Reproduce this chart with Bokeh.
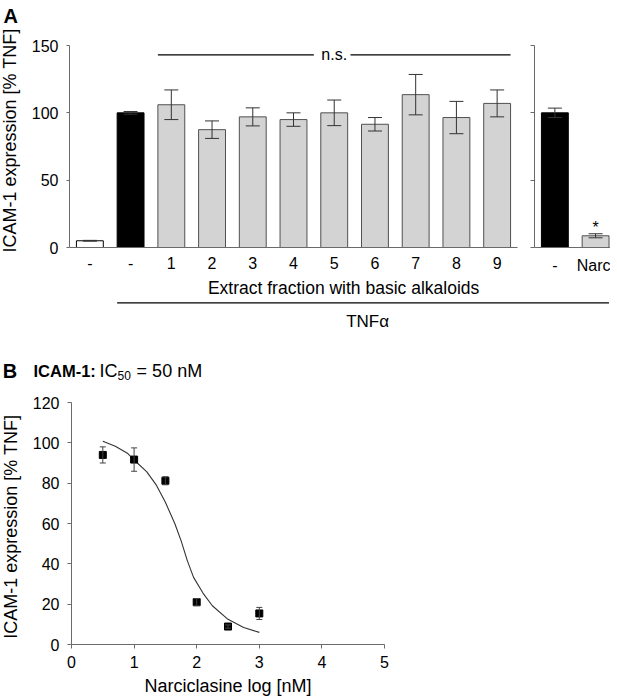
import math
from bokeh.plotting import figure
from bokeh.layouts import column, row
from bokeh.models import ColumnDataSource, Whisker, FixedTicker, Range1d, TeeHead
from bokeh.core.properties import value
from bokeh.embed import file_html
from bokeh.resources import INLINE

FONT = "Liberation Sans"

# ---------------- data ----------------
# Panel A, left part
a_labels = ["-", "-", "1", "2", "3", "4", "5", "6", "7", "8", "9"]
a_values = [5, 100, 106, 87.5, 97, 95, 100, 91.5, 113.5, 96.5, 107]
a_errors = [0.3, 1, 11, 6.5, 6.7, 5, 9.5, 5, 15, 12, 10]
a_fill = ["white", "black"] + ["#d3d3d3"] * 9
a_line = ["black", "black"] + ["#505050"] * 9

# Panel A, right part
r_labels = ["-", "Narc"]
r_values = [100, 8.7]
r_errors = [3.5, 1.5]
r_fill = ["black", "#d3d3d3"]
r_line = ["black", "#505050"]

ns_level = 143
y_ticks_a = [0, 50, 100, 150]

# Panel B
b_x = [0.5, 1.0, 1.5, 2.0, 2.5, 3.0]
b_y = [94, 91.7, 81.2, 21, 8.9, 15.4]
b_err = [4, 5.8, 2, 1.8, 0.8, 3]
fit_x = [0.5, 0.7, 0.9, 1.0, 1.2, 1.35, 1.5, 1.65, 1.75, 1.85, 1.95, 2.1, 2.25, 2.5, 2.75, 3.0]
fit_y = [100.8, 98.3, 94.7, 91.5, 85.7, 79.3, 70.5, 60.0, 51.5, 41.6, 33.3, 25.5, 19.2, 12.5, 8.4, 6.0]
y_ticks_b = [0, 20, 40, 60, 80, 100, 120]
x_ticks_b = [0, 1, 2, 3, 4, 5]

AXIS_COLOR = "#6a6a6a"
ERR_COLOR = "#333333"
BAR_W = 0.66
PX_PER_CAT = 448 / 11
Y_LABEL = "ICAM-1 expression [% TNF]"


def style(p):
    p.outline_line_color = None
    p.grid.visible = False
    p.background_fill_color = "white"
    p.border_fill_color = "white"
    for ax in p.axis:
        ax.axis_line_color = AXIS_COLOR
        ax.major_tick_line_color = AXIS_COLOR
        ax.minor_tick_line_color = None
        ax.major_tick_in = 0
        ax.major_label_text_font = FONT
        ax.major_label_text_font_size = "16px"
        ax.major_label_text_color = "black"
        ax.axis_label_text_font = FONT
        ax.axis_label_text_font_size = "18px"
        ax.axis_label_text_font_style = "normal"
        ax.axis_label_text_color = "black"


def txt(p, x, y, s, size="17px", style_="normal", align="center", baseline="middle", angle=0.0):
    p.text(x=[x], y=[y], text=[s], text_font=value(FONT), text_font_size=size,
           text_font_style=style_, text_align=align, text_baseline=baseline, angle=angle,
           text_color="black", level="annotation")


# ---------------- Panel A left ----------------
HA = 340
pa = figure(width=524, height=HA, x_range=Range1d(-0.5, 10.5), y_range=Range1d(0, 150),
            output_backend="svg", toolbar_location=None,
            min_border_left=69, min_border_right=7, min_border_top=45, min_border_bottom=HA - 247)
style(pa)
xa = list(range(len(a_labels)))
src_a = ColumnDataSource(dict(x=xa, top=a_values, fill=a_fill, line=a_line,
                              upper=[v + e for v, e in zip(a_values, a_errors)],
                              lower=[v - e for v, e in zip(a_values, a_errors)]))
pa.vbar(x="x", top="top", width=BAR_W, bottom=0, fill_color="fill", line_color="line",
        line_width=1, source=src_a)
pa.add_layout(Whisker(base="x", upper="upper", lower="lower", source=src_a, level="annotation",
                      line_color=ERR_COLOR, line_width=1,
                      upper_head=TeeHead(size=14, line_color=ERR_COLOR, line_width=1),
                      lower_head=TeeHead(size=14, line_color=ERR_COLOR, line_width=1)))
pa.xaxis.ticker = FixedTicker(ticks=xa)
pa.xaxis.major_label_overrides = {i: lab for i, lab in enumerate(a_labels)}
pa.xaxis.major_tick_line_color = None
pa.xaxis.major_tick_out = 0
pa.xaxis.major_label_standoff = 9
pa.yaxis.ticker = FixedTicker(ticks=y_ticks_a)
pa.yaxis.major_tick_out = 3
pa.yaxis.major_label_standoff = 8
# y axis title, drawn left of the tick labels
txt(pa, -1.95, 79.5, Y_LABEL, size="18px", angle=math.pi / 2)

# n.s. bracket over fractions 1-9
ns_left = xa[2] - BAR_W / 2
ns_right = xa[-1] + BAR_W / 2
ns_mid = xa[6]
pa.segment(x0=[ns_left, ns_mid + 0.4], x1=[ns_mid - 0.5, ns_right], y0=[ns_level, ns_level],
           y1=[ns_level, ns_level], line_color="black", line_width=1.2)
txt(pa, ns_mid, ns_level, "n.s.", size="16px")

# panel letter
txt(pa, -2.12, 172, "A", size="20px", style_="bold", align="left")

# group label and TNF bracket below the axis
txt(pa, 6.23, -30.4, "Extract fraction with basic alkaloids", size="17.5px")
tnf_y = -41.1
pa.segment(x0=[xa[1] - BAR_W / 2], x1=[13.0], y0=[tnf_y], y1=[tnf_y], line_color="black",
           line_width=1.2, level="annotation")
txt(pa, 6.82, -55, "TNFα")

# ---------------- Panel A right ----------------
wr = 86
frame_r = wr - 10
pr = figure(width=wr, height=HA, x_range=Range1d(-0.5, -0.5 + frame_r / PX_PER_CAT), y_range=Range1d(0, 150),
            output_backend="svg", toolbar_location=None,
            min_border_left=10, min_border_right=0, min_border_top=45, min_border_bottom=HA - 247)
style(pr)
xr = list(range(len(r_labels)))
src_r = ColumnDataSource(dict(x=xr, top=r_values, fill=r_fill, line=r_line,
                              upper=[v + e for v, e in zip(r_values, r_errors)],
                              lower=[v - e for v, e in zip(r_values, r_errors)]))
pr.vbar(x="x", top="top", width=BAR_W, bottom=0, fill_color="fill", line_color="line",
        line_width=1, source=src_r)
pr.add_layout(Whisker(base="x", upper="upper", lower="lower", source=src_r, level="annotation",
                      line_color=ERR_COLOR, line_width=1,
                      upper_head=TeeHead(size=14, line_color=ERR_COLOR, line_width=1),
                      lower_head=TeeHead(size=14, line_color=ERR_COLOR, line_width=1)))
pr.xaxis.ticker = FixedTicker(ticks=xr)
pr.xaxis.major_label_overrides = {i: lab for i, lab in enumerate(r_labels)}
pr.xaxis.major_tick_line_color = None
pr.xaxis.major_tick_out = 0
pr.xaxis.major_label_standoff = 9
pr.yaxis.ticker = FixedTicker(ticks=y_ticks_a)
pr.yaxis.major_tick_out = 4
pr.yaxis.major_label_overrides = {t: "" for t in y_ticks_a}
pr.yaxis.major_label_standoff = 0
txt(pr, xr[1], r_values[1] + 6.5, "*", size="16px")
pr.segment(x0=[-3.0], x1=[xr[1] + BAR_W / 2], y0=[tnf_y], y1=[tnf_y], line_color="black",
           line_width=1.2, level="annotation")

# ---------------- Panel B ----------------
HB = 700 - HA
pb = figure(width=617, height=HB, x_range=Range1d(0, 5), y_range=Range1d(0, 120),
            output_backend="svg", toolbar_location=None,
            min_border_left=71, min_border_right=617 - 71 - 313, min_border_top=62,
            min_border_bottom=HB - 62 - 242)
style(pb)
pb.xaxis.ticker = FixedTicker(ticks=x_ticks_b)
pb.yaxis.ticker = FixedTicker(ticks=y_ticks_b)
pb.xaxis.major_tick_out = 4
pb.yaxis.major_tick_out = 4
pb.xaxis.major_label_standoff = 7
pb.yaxis.major_label_standoff = 8
pb.xaxis.axis_label = "Narciclasine log [nM]"
pb.xaxis.axis_label_standoff = 5
txt(pb, -0.974, 58.4, Y_LABEL, size="18px", angle=math.pi / 2)

pb.line(fit_x, fit_y, line_color="#333333", line_width=1.1)
src_b = ColumnDataSource(dict(x=b_x, y=b_y, upper=[v + e for v, e in zip(b_y, b_err)],
                              lower=[v - e for v, e in zip(b_y, b_err)]))
pb.add_layout(Whisker(base="x", upper="upper", lower="lower", source=src_b, level="annotation",
                      line_color="#444444", line_width=1,
                      upper_head=TeeHead(size=6, line_color="#444444", line_width=1),
                      lower_head=TeeHead(size=6, line_color="#444444", line_width=1)))
pb.scatter("x", "y", source=src_b, marker="square", size=7, fill_color="black", line_color="black")

title_y = 135.7
txt(pb, -1.10, title_y, "B", size="20px", style_="bold", align="left")
txt(pb, -0.607, title_y, "ICAM-1:", size="16.5px", style_="bold", align="left")
txt(pb, 0.447, title_y, "IC", size="18px", align="left")
txt(pb, 0.735, title_y - 2.5, "50", size="12px", align="left")
txt(pb, 1.04, title_y, "= 50 nM", size="18px", align="left")

layout = column(row(pa, pr, spacing=0), pb, spacing=0)
open("out.html", "w").write(file_html(layout, INLINE))
